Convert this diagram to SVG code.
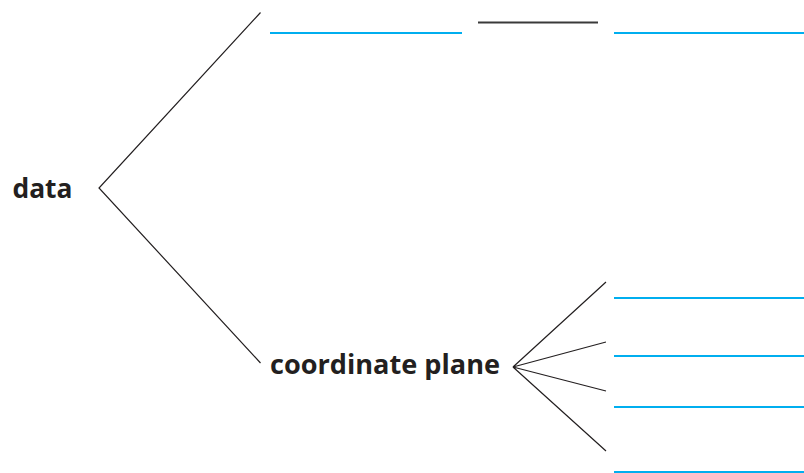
<svg xmlns="http://www.w3.org/2000/svg" width="804" height="473" viewBox="0 0 804 473">
<style>
.lbl{font-family:"Open Sans","Liberation Sans",sans-serif;font-weight:bold;font-size:26px;fill:#231f20}
.br{fill:none;stroke:#231f20;stroke-width:1.2}
.blank{stroke:#00aeef;stroke-width:2.2}
.rule{stroke:#3a3a3a;stroke-width:2}
</style>
<rect width="804" height="473" fill="#fff"/>
<g id="connectors">
<polyline class="br" points="260.5,12.5 99,188 260.5,363"/>
<polyline class="br" points="606,282 513,367 606,342"/>
<polyline class="br" points="606,391 513,367 606,451"/>
</g>
<g id="node-data"><text class="lbl" x="12.5" y="197.5" textLength="60" lengthAdjust="spacingAndGlyphs">data</text></g>
<g id="node-coordinate-plane"><text class="lbl" x="270" y="373.5" textLength="230" lengthAdjust="spacingAndGlyphs">coordinate plane</text></g>
<g id="blanks-top">
<line class="blank" x1="270" y1="33" x2="462" y2="33"/>
<line class="rule" x1="478" y1="22.5" x2="598" y2="22.5"/>
<line class="blank" x1="614" y1="33" x2="804" y2="33"/>
</g>
<g id="blanks-bottom">
<line class="blank" x1="614" y1="298" x2="804" y2="298"/>
<line class="blank" x1="614" y1="356" x2="804" y2="356"/>
<line class="blank" x1="614" y1="407" x2="804" y2="407"/>
<line class="blank" x1="614" y1="472" x2="804" y2="472"/>
</g>
</svg>
